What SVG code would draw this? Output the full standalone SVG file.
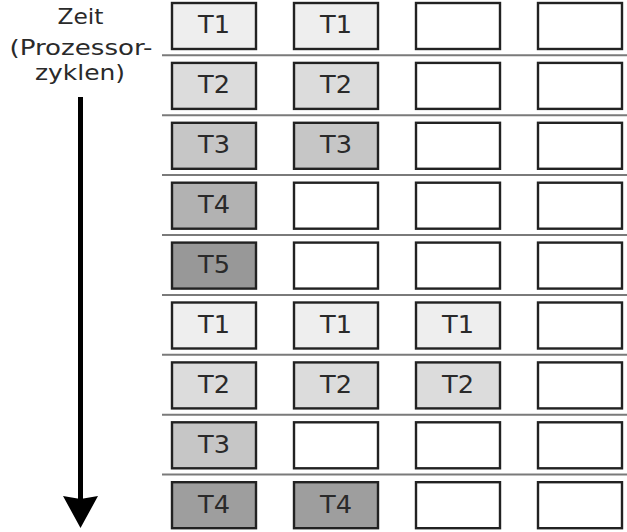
<svg xmlns="http://www.w3.org/2000/svg" width="627" height="532" viewBox="0 0 627 532">
<style>
.b{stroke:#222222;stroke-width:2.4}
.e{fill:#ffffff}
.c1{fill:#eeeeee}.c2{fill:#dcdcdc}.c3{fill:#c6c6c6}.c4{fill:#b2b2b2}.c5{fill:#989898}.c6{fill:#9e9e9e}
.t{font-family:"DejaVu Sans",sans-serif;font-size:24px;fill:#2a2a2a;text-anchor:middle}
.l{font-family:"DejaVu Sans",sans-serif;font-size:22px;fill:#2a2a2a;text-anchor:middle}
.s{stroke:#7a7a7a;stroke-width:2}
</style>
<g id="label">
<text class="l" x="80.5" y="24" textLength="46" lengthAdjust="spacingAndGlyphs">Zeit</text>
<text class="l" x="81" y="54.5" textLength="143" lengthAdjust="spacingAndGlyphs">(Prozessor-</text>
<text class="l" x="80" y="80" textLength="90" lengthAdjust="spacingAndGlyphs">zyklen)</text>
</g>
<g id="separators">
<line class="s" x1="162" y1="55.3" x2="627" y2="55.3"/>
<line class="s" x1="162" y1="115.2" x2="627" y2="115.2"/>
<line class="s" x1="162" y1="175.1" x2="627" y2="175.1"/>
<line class="s" x1="162" y1="235" x2="627" y2="235"/>
<line class="s" x1="162" y1="294.9" x2="627" y2="294.9"/>
<line class="s" x1="162" y1="354.8" x2="627" y2="354.8"/>
<line class="s" x1="162" y1="414.7" x2="627" y2="414.7"/>
<line class="s" x1="162" y1="474.6" x2="627" y2="474.6"/>
</g>
<g id="connectors">
<line x1="80.5" y1="97" x2="80.5" y2="500" stroke="#000" stroke-width="5"/>
<polygon points="63,496 80.5,499 98,496 80.5,528" fill="#000"/>
</g>
<g id="row1">
<g id="r1c1"><rect class="b c1" x="172" y="3" width="84" height="46"/><text class="t" x="214" y="33.3" textLength="32" lengthAdjust="spacingAndGlyphs">T1</text></g>
<g id="r1c2"><rect class="b c1" x="294" y="3" width="84" height="46"/><text class="t" x="336" y="33.3" textLength="32" lengthAdjust="spacingAndGlyphs">T1</text></g>
<g id="r1c3"><rect class="b e" x="416" y="3" width="84" height="46"/></g>
<g id="r1c4"><rect class="b e" x="538" y="3" width="84" height="46"/></g>
</g>
<g id="row2">
<g id="r2c1"><rect class="b c2" x="172" y="62.9" width="84" height="46"/><text class="t" x="214" y="93.2" textLength="32" lengthAdjust="spacingAndGlyphs">T2</text></g>
<g id="r2c2"><rect class="b c2" x="294" y="62.9" width="84" height="46"/><text class="t" x="336" y="93.2" textLength="32" lengthAdjust="spacingAndGlyphs">T2</text></g>
<g id="r2c3"><rect class="b e" x="416" y="62.9" width="84" height="46"/></g>
<g id="r2c4"><rect class="b e" x="538" y="62.9" width="84" height="46"/></g>
</g>
<g id="row3">
<g id="r3c1"><rect class="b c3" x="172" y="122.8" width="84" height="46"/><text class="t" x="214" y="153.1" textLength="32" lengthAdjust="spacingAndGlyphs">T3</text></g>
<g id="r3c2"><rect class="b c3" x="294" y="122.8" width="84" height="46"/><text class="t" x="336" y="153.1" textLength="32" lengthAdjust="spacingAndGlyphs">T3</text></g>
<g id="r3c3"><rect class="b e" x="416" y="122.8" width="84" height="46"/></g>
<g id="r3c4"><rect class="b e" x="538" y="122.8" width="84" height="46"/></g>
</g>
<g id="row4">
<g id="r4c1"><rect class="b c4" x="172" y="182.7" width="84" height="46"/><text class="t" x="214" y="213" textLength="32" lengthAdjust="spacingAndGlyphs">T4</text></g>
<g id="r4c2"><rect class="b e" x="294" y="182.7" width="84" height="46"/></g>
<g id="r4c3"><rect class="b e" x="416" y="182.7" width="84" height="46"/></g>
<g id="r4c4"><rect class="b e" x="538" y="182.7" width="84" height="46"/></g>
</g>
<g id="row5">
<g id="r5c1"><rect class="b c5" x="172" y="242.6" width="84" height="46"/><text class="t" x="214" y="272.9" textLength="32" lengthAdjust="spacingAndGlyphs">T5</text></g>
<g id="r5c2"><rect class="b e" x="294" y="242.6" width="84" height="46"/></g>
<g id="r5c3"><rect class="b e" x="416" y="242.6" width="84" height="46"/></g>
<g id="r5c4"><rect class="b e" x="538" y="242.6" width="84" height="46"/></g>
</g>
<g id="row6">
<g id="r6c1"><rect class="b c1" x="172" y="302.5" width="84" height="46"/><text class="t" x="214" y="332.8" textLength="32" lengthAdjust="spacingAndGlyphs">T1</text></g>
<g id="r6c2"><rect class="b c1" x="294" y="302.5" width="84" height="46"/><text class="t" x="336" y="332.8" textLength="32" lengthAdjust="spacingAndGlyphs">T1</text></g>
<g id="r6c3"><rect class="b c1" x="416" y="302.5" width="84" height="46"/><text class="t" x="458" y="332.8" textLength="32" lengthAdjust="spacingAndGlyphs">T1</text></g>
<g id="r6c4"><rect class="b e" x="538" y="302.5" width="84" height="46"/></g>
</g>
<g id="row7">
<g id="r7c1"><rect class="b c2" x="172" y="362.4" width="84" height="46"/><text class="t" x="214" y="392.7" textLength="32" lengthAdjust="spacingAndGlyphs">T2</text></g>
<g id="r7c2"><rect class="b c2" x="294" y="362.4" width="84" height="46"/><text class="t" x="336" y="392.7" textLength="32" lengthAdjust="spacingAndGlyphs">T2</text></g>
<g id="r7c3"><rect class="b c2" x="416" y="362.4" width="84" height="46"/><text class="t" x="458" y="392.7" textLength="32" lengthAdjust="spacingAndGlyphs">T2</text></g>
<g id="r7c4"><rect class="b e" x="538" y="362.4" width="84" height="46"/></g>
</g>
<g id="row8">
<g id="r8c1"><rect class="b c3" x="172" y="422.3" width="84" height="46"/><text class="t" x="214" y="452.6" textLength="32" lengthAdjust="spacingAndGlyphs">T3</text></g>
<g id="r8c2"><rect class="b e" x="294" y="422.3" width="84" height="46"/></g>
<g id="r8c3"><rect class="b e" x="416" y="422.3" width="84" height="46"/></g>
<g id="r8c4"><rect class="b e" x="538" y="422.3" width="84" height="46"/></g>
</g>
<g id="row9">
<g id="r9c1"><rect class="b c6" x="172" y="482.2" width="84" height="46"/><text class="t" x="214" y="512.5" textLength="32" lengthAdjust="spacingAndGlyphs">T4</text></g>
<g id="r9c2"><rect class="b c6" x="294" y="482.2" width="84" height="46"/><text class="t" x="336" y="512.5" textLength="32" lengthAdjust="spacingAndGlyphs">T4</text></g>
<g id="r9c3"><rect class="b e" x="416" y="482.2" width="84" height="46"/></g>
<g id="r9c4"><rect class="b e" x="538" y="482.2" width="84" height="46"/></g>
</g>
</svg>
